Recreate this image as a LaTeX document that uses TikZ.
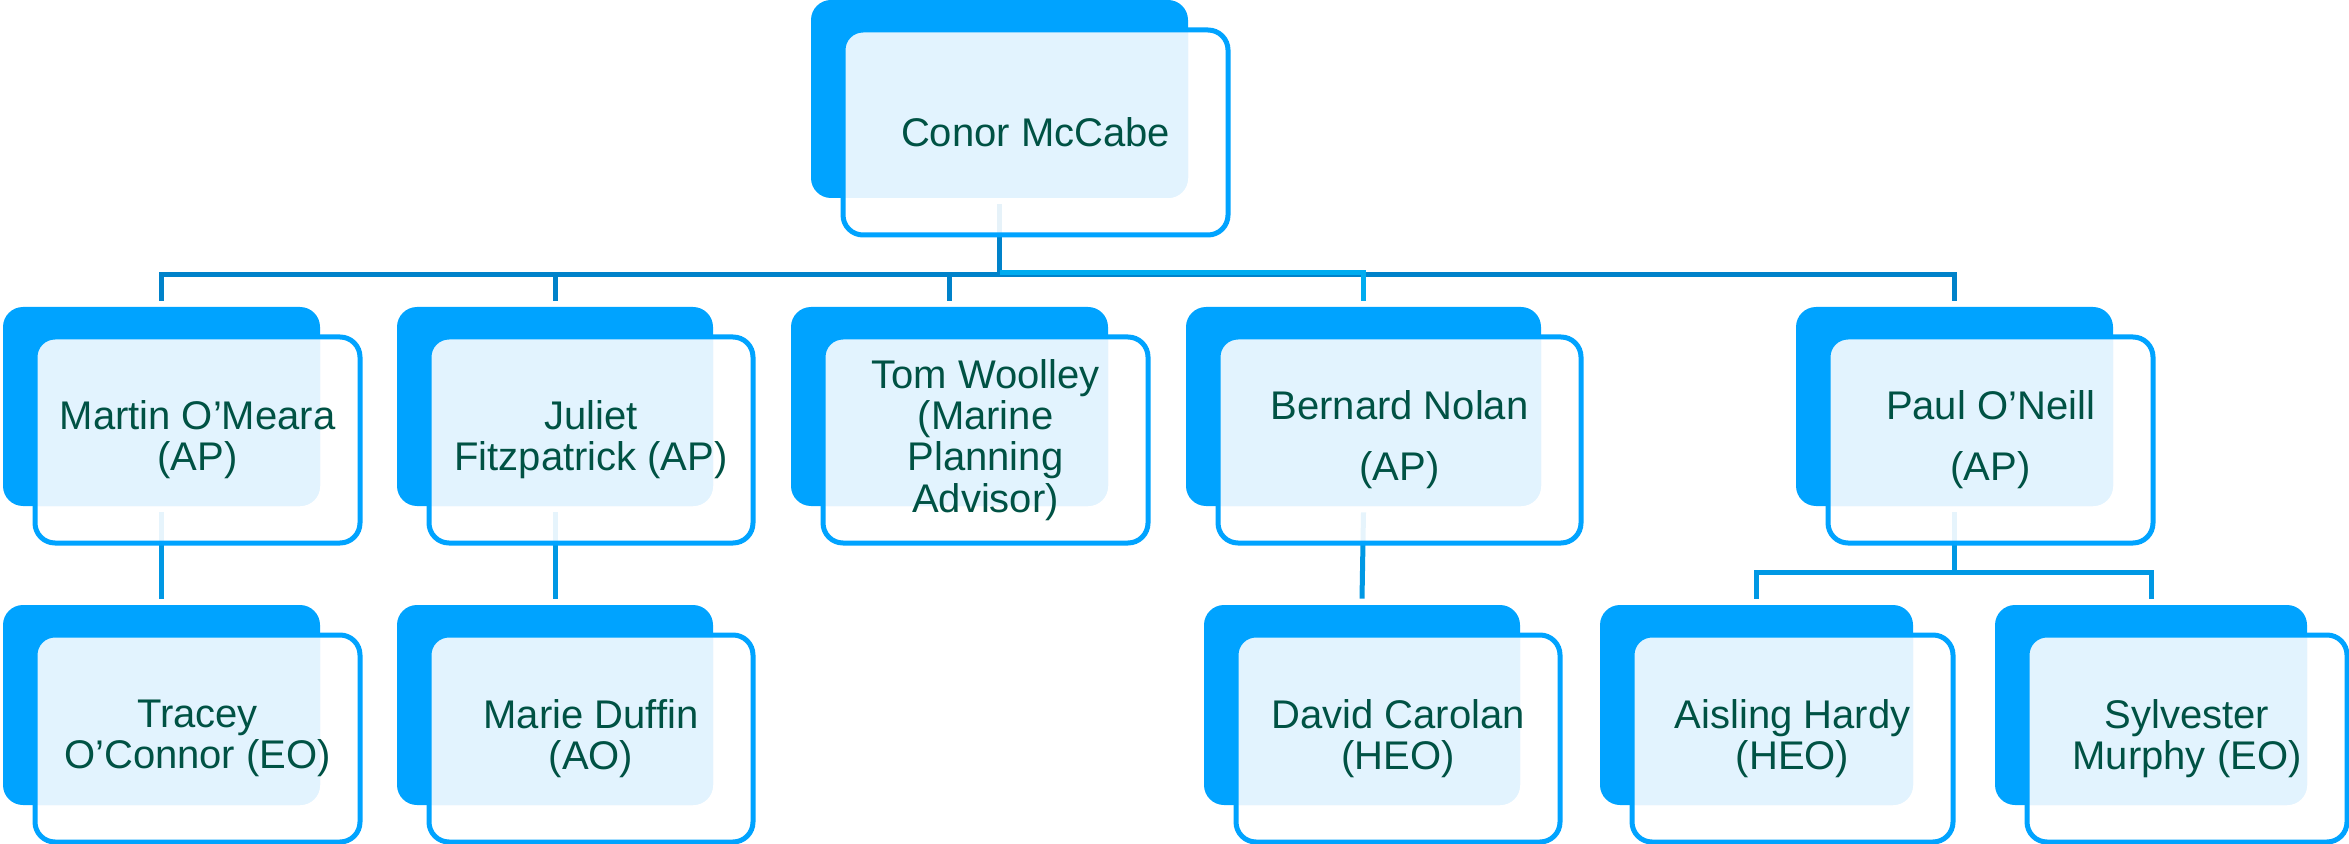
\documentclass[tikz,border=0pt]{standalone}
\usepackage{fontspec}
\setmainfont{Liberation Sans}
\usetikzlibrary{calc,fit,backgrounds}

\definecolor{boxblue}{RGB}{0,163,255}
\definecolor{boxtint}{RGB}{226,243,254}
\definecolor{namegreen}{RGB}{0,82,68}
\definecolor{linkdark}{RGB}{0,130,202}
\definecolor{linkmid}{RGB}{0,152,228}
\definecolor{linklight}{RGB}{0,172,240}

\tikzset{
  backbox/.style={fill=boxblue, rounded corners=10pt, inner sep=0pt},
  frontbox/.style={draw=boxblue, line width=2.5pt, rounded corners=10pt, inner sep=0pt},
  nametext/.style={text=namegreen, align=center, inner sep=0pt,
    font=\fontsize{20pt}{20.6pt}\selectfont},
  link/.style={draw=linkdark, line width=2.5pt},
}

% one staff member: corners of the back box (px), then the name
\newcommand{\staffbox}[6]{%
  \node[backbox, fit={(#2,#3) (#4,#5)}] (#1-b) {};
  \fill[white, fill opacity=0.9, rounded corners=10pt] ($(#2,#3)+(32,30)$) rectangle ($(#4,#5)+(40,37)$);
  \begin{scope}
    \clip[rounded corners=10pt] ($(#2,#3)+(32,30)$) rectangle ($(#4,#5)+(40,37)$);
    \fill[boxtint, rounded corners=10pt] (#2,#3) rectangle (#4,#5);
  \end{scope}
  \node[frontbox, fit={($(#2,#3)+(32,30)$) ($(#4,#5)+(40,37)$)}] (#1) {};
  \node[nametext] (#1-t) at (#1.center) {#6};
}

\begin{document}
\begin{tikzpicture}[x=0.5pt, y=-0.5pt]
  \path[use as bounding box] (0,0) rectangle (2349,844);

  % head
  \staffbox{conor}{811}{0}{1188}{198}{Conor McCabe}

  % second row
  \staffbox{martin}{3}{307}{320}{506}{Martin O’Meara\\(AP)}
  \staffbox{juliet}{397}{307}{713}{506}{Juliet\\Fitzpatrick (AP)}
  \staffbox{tom}{791}{307}{1108}{506}{Tom Woolley\\(Marine\\Planning\\Advisor)}
  \staffbox{bernard}{1186}{307}{1541}{506}{Bernard Nolan\\[10pt](AP)}
  \staffbox{paul}{1796}{307}{2113}{506}{Paul O’Neill\\[10pt](AP)}

  % third row
  \staffbox{tracey}{3}{605}{320}{805}{Tracey\\O’Connor (EO)}
  \staffbox{marie}{397}{605}{713}{805}{Marie Duffin\\(AO)}
  \staffbox{david}{1204}{605}{1520}{805}{David Carolan\\(HEO)}
  \staffbox{aisling}{1600}{605}{1913}{805}{Aisling Hardy\\(HEO)}
  \staffbox{sylvester}{1995}{605}{2307}{805}{Sylvester\\Murphy (EO)}

  % connectors
  \coordinate (bus) at (0,275);
  \coordinate (pbus) at (0,572);
  \begin{scope}[on background layer]
    \draw[link] ($(conor-b.south)+(0,6)$) -- (conor-b.south |- bus);
    \foreach \c in {martin,juliet,tom,paul}
      \draw[link] (conor-b.south |- bus) -| ($(\c-b.north)+(0,-6)$);
    \draw[link, draw=linklight] ($(conor-b.south |- bus)+(0,-2)$) -| ($(bernard-b.north)+(0,-6)$);
    \foreach \p/\c in {martin/tracey,juliet/marie,bernard/david}
      \draw[link, draw=linkmid] ($(\p-b.south)+(0,6)$) -- ($(\c-b.north)+(0,-6)$);
    \draw[link, draw=linkmid] ($(paul-b.south)+(0,6)$) -- (paul-b.south |- pbus);
    \foreach \c in {aisling,sylvester}
      \draw[link, draw=linkmid] (paul-b.south |- pbus) -| ($(\c-b.north)+(0,-6)$);
  \end{scope}
\end{tikzpicture}
\end{document}
